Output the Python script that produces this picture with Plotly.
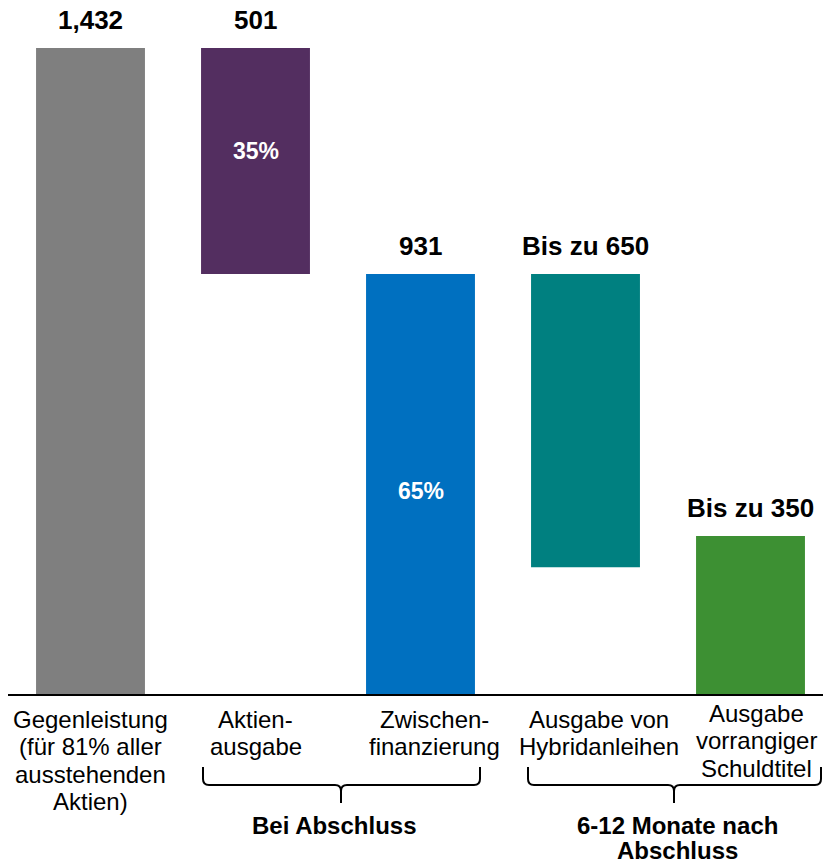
import plotly.graph_objects as go

# Financing structure (values in millions)
categories = [
    "Gegenleistung<br>(für 81% aller<br>ausstehenden<br>Aktien)",
    "Aktien-<br>ausgabe",
    "Zwischen-<br>finanzierung",
    "Ausgabe von<br>Hybridanleihen",
    "Ausgabe<br>vorrangiger<br>Schuldtitel",
]
amounts = [1432, 501, 931, 650, 350]
bar_tops = [1432, 1432, 931, 931, 350]
value_prefix = ["", "", "", "Bis zu ", "Bis zu "]
shares = ["", "35%", "65%", "", ""]
groups = ["Bei Abschluss", "6-12 Monate nach<br>Abschluss"]

colors = ["#7F7F7F", "#532E60", "#0070C0", "#008080", "#3D9033"]
FONT = "Liberation Sans, Arial, sans-serif"

W, H = 823, 863
ML, MR, MT, MB = 8, 0, 0, 169
PW, PH = W - ML - MR, H - MT - MB
STEP = 165.0           # px between category centers
YMAX = 1538.4


def px_x(px):
    return (px - ML) / PW


def px_y(py):
    return (MT + PH - py) / PH


x = list(range(len(categories)))
bases = [t - a for t, a in zip(bar_tops, amounts)]

fig = go.Figure()
fig.add_trace(go.Bar(
    x=x, y=amounts, base=bases, width=0.66,
    marker=dict(color=colors, line=dict(width=0)),
    hoverinfo="skip", showlegend=False,
))

annotations = []
# value labels above each bar
for i, (a, t, p) in enumerate(zip(amounts, bar_tops, value_prefix)):
    annotations.append(dict(
        x=i, y=t, xref="x", yref="y", xanchor="center", yanchor="bottom", yshift=11,
        text=f"<b>{p}{a:,}</b>", showarrow=False,
        font=dict(family=FONT, size=26, color="black"),
    ))

# share labels inside the bars
share_dy = [0, 10, -7, 0, 0]
for i, (s, a, b) in enumerate(zip(shares, amounts, bases)):
    if s:
        annotations.append(dict(
            x=i, y=b + a / 2, xref="x", yref="y", xanchor="center", yanchor="middle",
            yshift=share_dy[i], text=f"<b>{s}</b>", showarrow=False,
            font=dict(family=FONT, size=23, color="white"),
        ))

# category labels under the axis, one line at a time
label_dx = [0, 0, 14, 13, 6]
label_dy = [0, 0, 0, 0, -6]
LINE_H = 27.5
for i, lab in enumerate(categories):
    for k, line in enumerate(lab.split("<br>")):
        annotations.append(dict(
            x=i, y=px_y(719 + label_dy[i] + k * LINE_H), xref="x", yref="paper",
            xshift=label_dx[i], xanchor="center", yanchor="middle", text=line,
            showarrow=False, font=dict(family=FONT, size=24, color="black"),
        ))

# group brackets and titles
shapes = []
bracket_px = [(203, 341, 480), (528, 674, 821)]
title_px = [334, 677]
for (x0, xc, x1), tx, g in zip(bracket_px, title_px, groups):
    yt, yh, yb, r = 767, 785, 803, 6
    X, Y = px_x, px_y
    path = (
        f"M {X(x0)},{Y(yt)} L {X(x0)},{Y(yh - r)} Q {X(x0)},{Y(yh)} {X(x0 + r)},{Y(yh)} "
        f"L {X(xc - r)},{Y(yh)} Q {X(xc)},{Y(yh)} {X(xc)},{Y(yh + r)} L {X(xc)},{Y(yb)} "
        f"M {X(xc)},{Y(yh + r)} Q {X(xc)},{Y(yh)} {X(xc + r)},{Y(yh)} "
        f"L {X(x1 - r)},{Y(yh)} Q {X(x1)},{Y(yh)} {X(x1)},{Y(yh - r)} L {X(x1)},{Y(yt)}"
    )
    shapes.append(dict(type="path", xref="paper", yref="paper", path=path,
                       line=dict(color="black", width=2)))
    for k, line in enumerate(g.split("<br>")):
        annotations.append(dict(
            x=px_x(tx), y=px_y(825 + k * 25.5), xref="paper", yref="paper",
            xanchor="center", yanchor="middle", text=f"<b>{line}</b>", showarrow=False,
            font=dict(family=FONT, size=24, color="black"),
        ))

fig.update_layout(
    width=W, height=H, autosize=False,
    margin=dict(l=ML, r=MR, t=MT, b=MB, pad=0),
    paper_bgcolor="white", plot_bgcolor="white",
    xaxis=dict(range=[-0.5, -0.5 + PW / STEP], showticklabels=False, ticks="",
               showgrid=False, zeroline=False, showline=True,
               linecolor="black", linewidth=2, fixedrange=True),
    yaxis=dict(range=[0, YMAX], visible=False, showgrid=False, fixedrange=True),
    annotations=annotations, shapes=shapes,
)

fig.write_html("out.html")
